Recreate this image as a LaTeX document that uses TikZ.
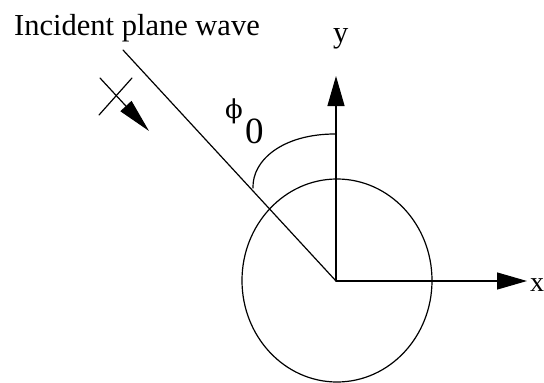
\documentclass[tikz,border=0pt]{standalone}
\usepackage{fontspec}
\setmainfont{Liberation Serif}
\newfontfamily\grkfont{DejaVu Serif}
\usetikzlibrary{arrows.meta}
\tikzset{
  lbl/.style={inner sep=0pt, font=\fontsize{30.5}{36}\selectfont},
  ln/.style={line width=1.2pt, line cap=round},
  axisarrow/.style={ln, -{Triangle[length=30pt,width=17pt]}},
  wavearrow/.style={ln, -{Triangle[length=34pt,width=15pt]}}
}
\begin{document}
\begin{tikzpicture}[x=1pt,y=-1pt]
\useasboundingbox (0,0) rectangle (544,383);
% coordinates
\coordinate (O) at (336,281);
\coordinate (C) at (337,280.5);
\coordinate (Ytip) at (336,76);
\coordinate (Xtip) at (527,281);
\coordinate (Wtop) at (123,50);
\coordinate (Astart) at (335,134);
\coordinate (Aend) at (253,188);
\coordinate (K1) at (100,78);
\coordinate (K2) at (149,131);
\coordinate (K3) at (132,78);
\coordinate (K4) at (99,115);
% circle
\draw[ln] (C) ellipse [x radius=95, y radius=101.5];
% axes
\draw[axisarrow] (O) -- (Ytip);
\draw[axisarrow] (O) -- (Xtip);
% incident wavefront line
\draw[ln] (Wtop) -- (O);
% angle arc
\draw[ln] (Astart) .. controls (283,134) and (252,160) .. (Aend);
% propagation arrow with cross
\draw[wavearrow] (K1) -- (K2);
\draw[ln] (K3) -- (K4);
% labels
\node[lbl, anchor=base west] (title) at (14,35) {Incident plane wave};
\node[lbl, anchor=base west] (ylab) at (333,42) {y};
\node[lbl, anchor=base west, font=\fontsize{28}{32}\selectfont] (xlab) at (530,291) {x};
\node[inner sep=0pt, anchor=base west, font=\grkfont\fontsize{26}{30}\selectfont] (phi) at (225,118) {ϕ};
\node[inner sep=0pt, anchor=base west, font=\fontsize{37}{40}\selectfont] (sub) at (245,143) {0};
\end{tikzpicture}
\end{document}
